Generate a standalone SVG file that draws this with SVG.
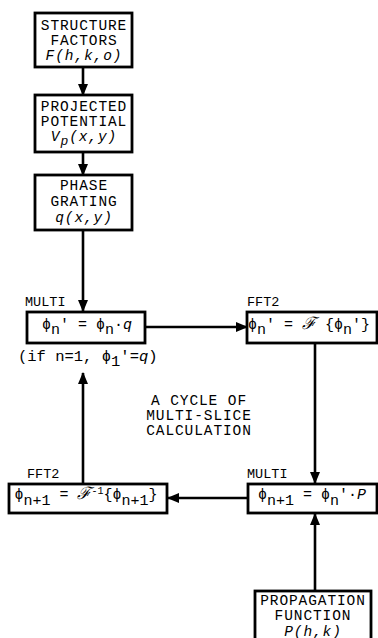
<svg xmlns="http://www.w3.org/2000/svg" width="378" height="638" viewBox="0 0 378 638">
<style>
.box{fill:#fff;stroke:#000;stroke-width:2.8}
.t{font-family:"Liberation Mono","DejaVu Sans Mono",monospace;font-size:14.5px;letter-spacing:0.9px;fill:#000;text-anchor:middle}
.f{font-family:"Liberation Mono","DejaVu Sans Mono",monospace;font-size:15px;fill:#000;text-anchor:middle}
.i{font-style:italic}
.lbl{font-family:"Liberation Mono","DejaVu Sans Mono",monospace;font-size:13.5px;fill:#000}
.c{stroke:#000;stroke-width:2.6;fill:none;marker-end:url(#ah)}
.sf{font-family:"DejaVu Serif","Liberation Serif",serif;font-style:italic;font-size:17px}
</style>
<defs>
<marker id="ah" markerUnits="userSpaceOnUse" markerWidth="12" markerHeight="10" refX="11" refY="5" orient="auto">
<path d="M0,0 L12,5 L0,10 z" fill="#000"/>
</marker>
</defs>
<g id="connectors">
<line class="c" x1="83" y1="67" x2="83" y2="95"/>
<line class="c" x1="83" y1="152" x2="83" y2="175"/>
<line class="c" x1="83" y1="230" x2="83" y2="311"/>
<line class="c" x1="145" y1="327" x2="247" y2="327"/>
<line class="c" x1="315" y1="343" x2="315" y2="483"/>
<line class="c" x1="248" y1="498" x2="168" y2="498"/>
<line class="c" x1="83" y1="484" x2="83" y2="373"/>
<line class="c" x1="315" y1="591" x2="315" y2="514"/>
</g>
<g id="n1">
<rect class="box" x="35" y="13" width="97" height="54"/>
<text class="t" x="84" y="30">STRUCTURE</text>
<text class="t" x="84" y="45">FACTORS</text>
<text class="t i" x="84" y="60">F(h,k,o)</text>
</g>
<g id="n2">
<rect class="box" x="35" y="95" width="97" height="57"/>
<text class="t" x="84" y="111">PROJECTED</text>
<text class="t" x="84" y="126">POTENTIAL</text>
<text class="t i" x="84" y="141">V<tspan dy="4" font-size="13">p</tspan><tspan dy="-4">(x,y)</tspan></text>
</g>
<g id="n3">
<rect class="box" x="35" y="175" width="97" height="55"/>
<text class="t" x="84" y="190">PHASE</text>
<text class="t" x="84" y="206">GRATING</text>
<text class="t i" x="84" y="222">q(x,y)</text>
</g>
<g id="n4">
<text class="lbl" x="25" y="306">MULTI</text>
<rect class="box" x="27" y="312" width="118" height="31"/>
<text class="f" x="87" y="329">ϕ<tspan dy="5">n</tspan><tspan dy="-5">' = ϕ</tspan><tspan dy="5">n</tspan><tspan dy="-5">·</tspan><tspan class="i">q</tspan></text>
<text class="f" x="18" y="361" style="text-anchor:start;font-size:15.5px">(if n=1, ϕ<tspan dy="5">1</tspan><tspan dy="-5">'=</tspan><tspan class="i">q</tspan>)</text>
</g>
<g id="n5">
<text class="lbl" x="247" y="306">FFT2</text>
<rect class="box" x="247" y="312" width="130" height="31"/>
<text class="f" x="309" y="329">ϕ<tspan dy="5">n</tspan><tspan dy="-5">' = </tspan><tspan class="sf">ℱ</tspan> {ϕ<tspan dy="5">n</tspan><tspan dy="-5">'}</tspan></text>
</g>
<g id="cycle">
<text class="t" x="199" y="405">A CYCLE OF</text>
<text class="t" x="199" y="420">MULTI-SLICE</text>
<text class="t" x="199" y="435">CALCULATION</text>
</g>
<g id="n6">
<text class="lbl" x="27" y="478">FFT2</text>
<rect class="box" x="9" y="484" width="158" height="29"/>
<text class="f" x="86" y="499">ϕ<tspan dy="6">n+1</tspan><tspan dy="-6"> = </tspan><tspan class="sf">ℱ</tspan><tspan dy="-5" font-size="10">-1</tspan><tspan dy="5">{ϕ</tspan><tspan dy="6">n+1</tspan><tspan dy="-6">}</tspan></text>
</g>
<g id="n7">
<text class="lbl" x="247" y="478">MULTI</text>
<rect class="box" x="248" y="484" width="129" height="29"/>
<text class="f" x="312" y="499">ϕ<tspan dy="6">n+1</tspan><tspan dy="-6"> = ϕ</tspan><tspan dy="6">n</tspan><tspan dy="-6">'·</tspan><tspan class="i">P</tspan></text>
</g>
<g id="n8">
<rect class="box" x="255" y="591" width="116" height="60"/>
<text class="t" x="313" y="605">PROPAGATION</text>
<text class="t" x="313" y="620">FUNCTION</text>
<text class="t i" x="313" y="636">P(h,k)</text>
</g>
</svg>
